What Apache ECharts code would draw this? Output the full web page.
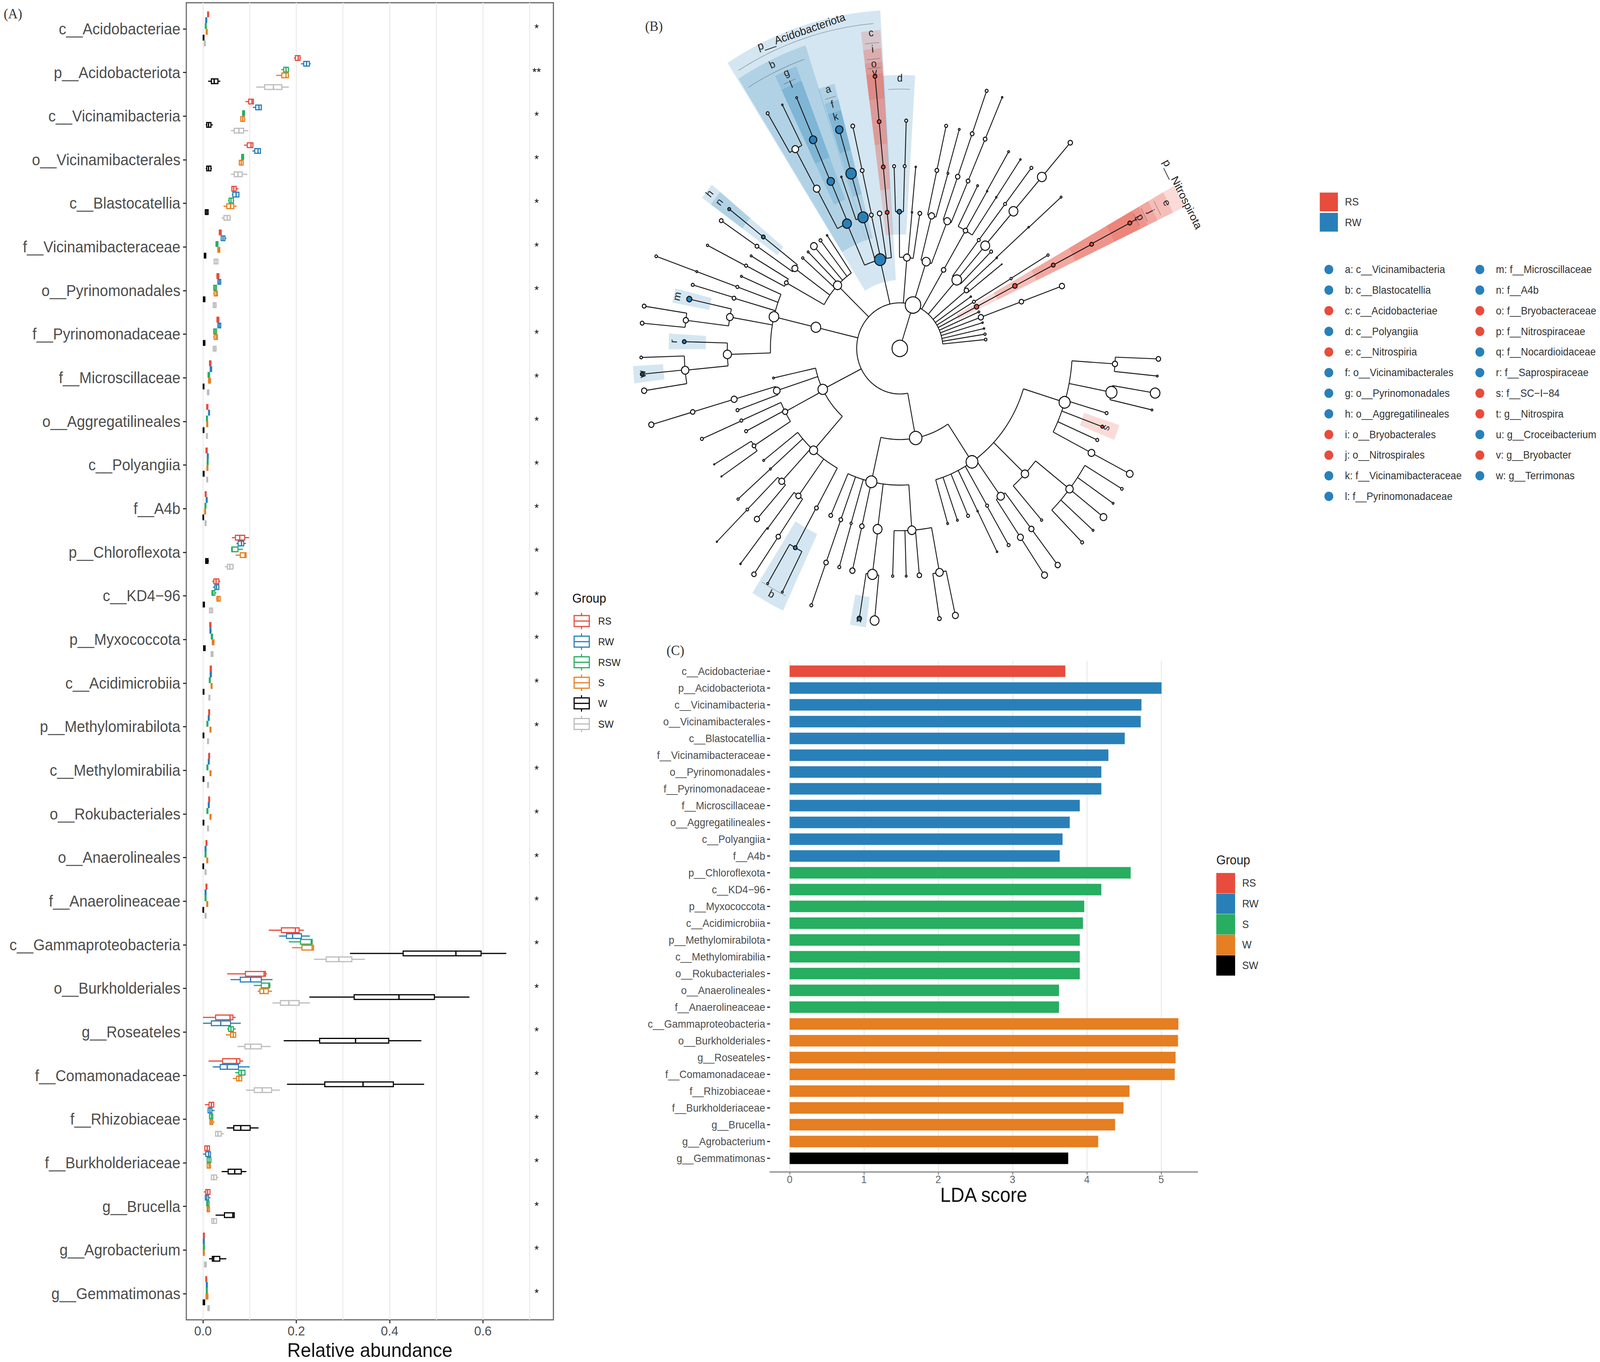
<!DOCTYPE html>
<html><head><meta charset="utf-8">
<style>html,body{margin:0;padding:0;background:#fff;overflow:hidden}#c{width:4328px;height:3487px;transform-origin:0 0}</style>
<script src="https://cdn.jsdelivr.net/npm/echarts@6/dist/echarts.min.js"></script>
</head><body><div id="c"></div>
<script>
// ---------- DATA ----------
const categories = ['c__Acidobacteriae','p__Acidobacteriota','c__Vicinamibacteria','o__Vicinamibacterales','c__Blastocatellia','f__Vicinamibacteraceae','o__Pyrinomonadales','f__Pyrinomonadaceae','f__Microscillaceae','o__Aggregatilineales','c__Polyangiia','f__A4b','p__Chloroflexota','c__KD4\u221296','p__Myxococcota','c__Acidimicrobiia','p__Methylomirabilota','c__Methylomirabilia','o__Rokubacteriales','o__Anaerolineales','f__Anaerolineaceae','c__Gammaproteobacteria','o__Burkholderiales','g__Roseateles','f__Comamonadaceae','f__Rhizobiaceae','f__Burkholderiaceae','g__Brucella','g__Agrobacterium','g__Gemmatimonas'];
const significance = ['*','**','*','*','*','*','*','*','*','*','*','*','*','*','*','*','*','*','*','*','*','*','*','*','*','*','*','*','*','*'];
const boxGroups = ['RS','RW','RSW','S','W','SW'];
const boxColors = ['#E74C3C','#2980B9','#27AE60','#E67E22','#000000','#BDBDBD'];
// each row: min, q1, median, q3, max
const boxRS = [[.009,.01,.011,.012,.013],[.195,.198,.204,.208,.21],[.091,.098,.105,.108,.109],[.088,.095,.103,.107,.107],[.062,.062,.066,.071,.076],[.034,.035,.037,.039,.04],[.029,.03,.032,.034,.035],[.029,.03,.032,.034,.035],[.013,.014,.015,.017,.018],[.0075,.008,.009,.0105,.0105],[.006,.0065,.0077,.009,.009],[.0043,.0048,.0058,.0068,.0073],[.062,.0696,.0788,.0894,.0987],[.0198,.0233,.028,.0339,.037],[.0135,.0145,.0158,.017,.018],[.015,.0155,.0167,.018,.0185],[.0117,.0122,.0132,.0142,.0147],[.0117,.0122,.0132,.0142,.0147],[.0117,.0122,.0132,.0142,.0147],[.006,.0065,.0074,.0084,.0089],[.006,.0065,.0074,.0084,.0089],[.141,.168,.198,.206,.216],[.052,.091,.131,.134,.137],[0,.027,.058,.064,.07],[.012,.042,.072,.079,.086],[.004,.013,.018,.023,.024],[.003,.004,.009,.014,.014],[.002,.006,.01,.015,.015],[.0005,.001,.002,.003,.0035],[.0055,.006,.007,.008,.0085]];
const boxRW = [[.005,.006,.007,.008,.009],[.21,.216,.222,.228,.231],[.107,.113,.12,.125,.126],[.106,.111,.118,.123,.124],[.062,.064,.071,.077,.078],[.038,.039,.043,.047,.05],[.031,.032,.035,.038,.039],[.031,.032,.035,.038,.039],[.015,.0155,.017,.0185,.019],[.0115,.012,.013,.014,.0145],[.0088,.0093,.0103,.0113,.0118],[.0065,.007,.008,.009,.0095],[.0717,.0754,.0825,.0873,.092],[.0212,.0254,.029,.0339,.0352],[.014,.015,.016,.017,.0188],[.015,.0155,.0167,.018,.0185],[.0109,.0114,.0124,.0134,.0139],[.0109,.0114,.0124,.0134,.0139],[.0109,.0114,.0124,.0134,.0139],[.004,.0045,.0055,.0065,.007],[.004,.0045,.0055,.0065,.007],[.163,.179,.192,.211,.229],[.059,.08,.102,.125,.149],[0,.018,.038,.059,.081],[.021,.037,.052,.076,.1],[.011,.011,.015,.019,.025],[0,.006,.012,.016,.016],[.005,.005,.008,.012,.016],[.0005,.0008,.0018,.0028,.0033],[.007,.0072,.0082,.0092,.0097]];
const boxRSW = [[.0045,.005,.006,.007,.0075],[.168,.173,.178,.183,.184],[.084,.085,.087,.089,.09],[.082,.083,.085,.087,.088],[.054,.056,.06,.065,.067],[.027,.028,.03,.032,.032],[.022,.023,.026,.029,.029],[.022,.023,.026,.029,.029],[.01,.011,.012,.014,.015],[.007,.0075,.0085,.0095,.01],[.0085,.009,.01,.011,.0115],[.0038,.0043,.0053,.0063,.0068],[.0603,.0616,.0625,.0749,.0854],[.0193,.0193,.0215,.0254,.0288],[.0172,.0178,.019,.0204,.0214],[.013,.0136,.0146,.0156,.0162],[.008,.0085,.0095,.0105,.011],[.008,.0085,.0095,.0105,.011],[.008,.0085,.0095,.0105,.011],[.004,.0045,.0055,.0065,.007],[.004,.0045,.0055,.0065,.007],[.184,.209,.232,.234,.235],[.109,.125,.141,.143,.145],[.052,.055,.06,.065,.07],[.069,.077,.082,.09,.09],[.014,.014,.018,.021,.021],[.009,.009,.013,.017,.017],[.008,.008,.01,.013,.013],[.0008,.001,.002,.003,.0035],[.007,.0072,.0082,.0092,.0097]];
const boxS = [[.0065,.007,.008,.009,.0095],[.157,.169,.178,.183,.184],[.08,.081,.085,.089,.091],[.077,.078,.082,.086,.087],[.044,.051,.059,.066,.072],[.031,.032,.034,.036,.036],[.022,.024,.028,.031,.031],[.022,.024,.028,.031,.031],[.011,.012,.014,.016,.016],[.0077,.0082,.0092,.0102,.0107],[.008,.0085,.0095,.0105,.011],[.003,.0035,.0045,.0055,.006],[.07,.08,.09,.0923,.0923],[.0278,.03,.033,.0368,.0368],[.0185,.02,.022,.0235,.0238],[.017,.0175,.0185,.0195,.02],[.0146,.0151,.0161,.0171,.0176],[.0146,.0151,.0161,.0171,.0176],[.0146,.0151,.0161,.0171,.0176],[.0077,.0082,.0092,.0102,.0107],[.0077,.0082,.0092,.0102,.0107],[.191,.212,.234,.237,.237],[.117,.122,.13,.14,.148],[.049,.059,.065,.07,.071],[.064,.072,.077,.083,.083],[.015,.015,.018,.021,.025],[.009,.009,.013,.016,.016],[.009,.009,.011,.014,.014],[.0005,.0008,.0018,.0028,.0033],[.006,.0065,.0085,.0105,.011]];
const boxW = [[0,.0005,.001,.002,.0025],[.011,.018,.024,.032,.037],[.006,.008,.012,.017,.021],[.006,.008,.012,.017,.019],[.004,.005,.008,.011,.012],[.002,.003,.004,.006,.007],[.0005,.001,.003,.004,.005],[.0005,.001,.003,.004,.005],[0,.0005,.001,.002,.003],[0,.0005,.001,.002,.0025],[0,.0005,.0013,.0023,.0028],[0,.0003,.0003,.0013,.0018],[.0048,.0058,.0085,.0108,.0127],[0,.0005,.0015,.003,.004],[.0008,.0015,.003,.0045,.0056],[0,.0005,.001,.002,.0025],[0,.0004,.0008,.0018,.0023],[0,.0004,.0008,.0018,.0023],[0,.0004,.0008,.0018,.0023],[0,.0002,.0003,.0013,.0018],[0,.0002,.0003,.0013,.0018],[.315,.429,.542,.596,.65],[.228,.324,.42,.496,.571],[.173,.25,.327,.398,.468],[.18,.261,.343,.408,.474],[.051,.066,.081,.101,.119],[.04,.054,.068,.082,.093],[.027,.046,.064,.067,.068],[.013,.02,.023,.036,.05],[0,.0005,.002,.0035,.004]];
const boxSW = [[.002,.003,.004,.005,.006],[.114,.132,.151,.169,.184],[.06,.067,.077,.087,.097],[.06,.067,.075,.084,.095],[.04,.045,.052,.058,.06],[.023,.024,.028,.032,.033],[.021,.022,.025,.028,.029],[.021,.022,.025,.028,.029],[.009,.0095,.011,.0125,.013],[.007,.0075,.0085,.0095,.01],[.0075,.008,.009,.01,.0105],[.004,.0045,.0055,.0065,.007],[.047,.0524,.0575,.0643,.0664],[.014,.014,.0175,.0206,.022],[.0167,.0175,.0195,.0215,.0222],[.012,.0127,.0137,.0147,.0152],[.0093,.0098,.0108,.0118,.0123],[.0093,.0098,.0108,.0118,.0123],[.0093,.0098,.0108,.0118,.0123],[.004,.0045,.0055,.0065,.007],[.004,.0045,.0055,.0065,.007],[.238,.264,.291,.319,.347],[.149,.166,.184,.206,.229],[.074,.09,.102,.125,.145],[.092,.11,.127,.147,.165],[.027,.027,.032,.039,.045],[.018,.018,.023,.029,.033],[.019,.019,.023,.029,.03],[.003,.0035,.005,.007,.008],[.009,.0105,.012,.0135,.015]];
const xTicksA = [0,0.2,0.4,0.6];
const xGridA = [0,0.1,0.2,0.3,0.4,0.5,0.6,0.7];

const ldaScores = [3.71,5.005,4.735,4.725,4.51,4.29,4.195,4.195,3.905,3.77,3.673,3.635,4.59,4.195,3.965,3.948,3.905,3.905,3.905,3.625,3.625,5.232,5.227,5.194,5.183,4.574,4.493,4.38,4.153,3.749];
const ldaGroup = ['RS','RW','RW','RW','RW','RW','RW','RW','RW','RW','RW','RW','S','S','S','S','S','S','S','S','S','W','W','W','W','W','W','W','W','SW'];
const ldaLegend = ['RS','RW','S','W','SW'];
const ldaColors = {RS:'#E74C3C',RW:'#2980B9',S:'#27AE60',W:'#E67E22',SW:'#000000'};
const xTicksC = [0,1,2,3,4,5];

const treeGroups = ['RS','RW'];
const cladeLetters1 = [['a: c__Vicinamibacteria','RW'],['b: c__Blastocatellia','RW'],['c: c__Acidobacteriae','RS'],['d: c__Polyangiia','RW'],['e: c__Nitrospiria','RS'],['f: o__Vicinamibacterales','RW'],['g: o__Pyrinomonadales','RW'],['h: o__Aggregatilineales','RW'],['i: o__Bryobacterales','RS'],['j: o__Nitrospirales','RS'],['k: f__Vicinamibacteraceae','RW'],['l: f__Pyrinomonadaceae','RW']];
const cladeLetters2 = [['m: f__Microscillaceae','RW'],['n: f__A4b','RW'],['o: f__Bryobacteraceae','RS'],['p: f__Nitrospiraceae','RS'],['q: f__Nocardioidaceae','RW'],['r: f__Saprospiraceae','RW'],['s: f__SC\u2212I\u221284','RS'],['t: g__Nitrospira','RS'],['u: g__Croceibacterium','RW'],['v: g__Bryobacter','RS'],['w: g__Terrimonas','RW']];

// Tree nodes: [angle in degrees clockwise from north, node size, group (0 none, 1 RS, 2 RW), ...children]. Depth = taxonomic rank.
const phylumBottom = [-190.6,17,0,
  [-167.3,15,0,[-156.4,5,0],[-160,5,0,[-160,6,0,[-160,4,0]]],[-163.6,3,0,[-163.7,4,0]],[-167.3,6,0,[-167.3,7,0]],[-172.6,12,0,[-172.7,13,0,[-171,6,2],[-174.4,12,0]]],[-184,11,0,[-178.1,3,0],[-181.7,2.5,0],[-185.2,6,0],[-190.6,10,0,[-188.8,5,0],[-192.4,8,0]]]],
  [-213.9,16,0,[-196.1,2.5,0],[-199.5,2.5,0],[-203.3,4,0],[-206.8,2,0,[-206.8,2,0]],[-210.4,4,0,[-210.3,4,0]],[-215.8,10,0,[-214,8,0,[-214,8,0]],[-217.6,7,0,[-217.6,7,0]]],
    [-226.5,10,0,[-221.1,3,0],[-231.9,10,0,[-224.8,4,0],[-228.3,2.5,0],[-231.9,9,0],[-235.5,2.5,0],[-239.1,3.5,0]]],
    [-252.8,15,0,[-266.1,7,0,[-267.8,6,0],[-264.2,2.5,0]],[-258.9,15,0,[-260.6,13,0],[-257,2.5,0]],[-253.5,4,0],[-249.9,4,1],[-246.3,4,0],[-242.7,9,0,[-242.7,9,0]]]]];
const phylumLowerLeft = [-116.7,13,0,[-102.5,2.5,0],[-108,9,0,[-106.2,8,0,[-106.2,6,0,[-106.2,7,0]]],[-109.8,4,0]],[-117.6,7,0,[-113.3,4,0,[-113.4,4,0]],[-117,4,0],[-122.3,5,0,[-120.6,1.5,0],[-124.2,1.5,0]]],
  [-138.2,11,0,[-127.9,2.5,0],[-131.4,2.5,0,[-131.4,3,0]],[-136.8,8,0,[-135,3.5,0,[-135,1.5,0]],[-138.5,7,0]],[-144,7,0,[-142.2,2,0,[-142,2,0]],[-145.7,6,0,[-145.7,6,0]]],[-151.1,5,0,[-151,5,2,[-149.3,2.5,0],[-153,2.5,0]]]]];
const phylumLeft = [-76.6,13,0,[-76.6,13,0,[-66.7,2.5,0],[-70.3,4,0,[-70.3,2.5,0,[-70.3,3.5,0]]],[-74,5,0,[-73.8,4,0]],[-80.1,9,0,[-77.5,7,2],[-82.9,7,0,[-81.1,5,0],[-84.7,5,0]]],[-91.9,11,0,[-88.3,5,2],[-95.5,10,0,[-91.9,3.5,0],[-95.4,5,2],[-98.9,7,0]]]]];
const phylumUpperLeft = [-46.2,11,0,[-34.2,2,0],[-37.8,4,0],[-41.6,9,0],[-45.1,2.5,0],[-48.6,3,0],[-54.2,8,0,[-52.3,5,2,[-52.3,4,2]],[-55.9,5,0,[-55.9,5,0]]],[-61.3,5,0,[-63,4,0,[-63.1,3,0]],[-59.5,2.5,0]]];
const phylumAcidobacteriota = [-13.2,15,2,[-24.1,12,2,[-28.8,9,0,[-29,9,0,[-30.7,4,0],[-27,2,0]]],[-23.6,10,2,[-23.7,10,2,[-23.5,2.5,0]]]],[-16.5,14,2,[-19.8,2,0],[-16.4,14,2,[-16.3,10,2]]],[-12.7,5,0,[-12.6,5,0,[-12.6,5,0]]],[-9,6,0],[-5.6,5,1,[-5.5,5,1,[-5.5,5,1,[-5.5,5,1]]]]];
const phylumMyxococcota = [4.7,9,0,[-0.2,6,2,[-1.9,4,0],[1.6,4,0,[1.7,4,0]]],[5.4,2,0,[5.3,2,0]],[8.9,5,0]];
const phylumTop = [17.8,11,0,[14.2,8,0,[12.4,5,0,[12.4,4,0]],[16.2,2.5,0,[16,2.5,0]]],[21.5,9,0,[19.6,6,0,[19.6,5,0,[19.6,4,0]]],[23.3,5,0,[23.3,5,0,[23.3,2,0]]]]];
const phylumC = [30.5,6,0,[30.5,6,0,[26.8,2.5,0],[30.4,2,0,[30.3,2.5,0]],[34,2,0,[34,2,0]]]];
const phylumD = [41.3,13,0,[37.6,4,0,[37.6,4,0,[37.6,4,0]]],[41.3,12,0,[41.2,12,0,[41.2,12,0,[41.2,6,0]]]],[44.9,4,0]];
const phylumE = [50.5,6,0,[48.5,2,0,[48.3,2,0,[48.4,2.5,0]]],[52,1,0]];
const phylumNitrospirota = [62.8,6,1,[62.8,6,1,[62.8,5,1,[62.8,5,1,[62.7,5,1]]]]];
const smallPhyla = [[55.4,2,0],[59.2,4,0,[59.3,3,0,[59.2,3,0]]],[66.4,2.5,0],[70,7,0,[70,6,0,[70,7,0]]],[73.6,2,0],[77.4,2,0],[81,3,0],[84.4,3.5,0]];
const treeRoot = [0,21,0,[17.8,21,0,phylumBottom,phylumLowerLeft,phylumLeft,phylumUpperLeft,phylumAcidobacteriota,phylumMyxococcota,phylumTop,phylumC,phylumD,phylumE,phylumNitrospirota,...smallPhyla]];

// Shaded clades: group, from angle, to angle, inner rank, outer rank
const cladeShades = [
 ['RW',-32.5,-3.5,1.5,7.43],['RW',-32.3,-18.2,2.5,7.0],['RW',-18.4,-14.6,2.5,6.0],['RW',-18,-14.6,3.5,5.64],['RW',-18,-14.6,4.5,5.4],
 ['RW',-25.8,-21.2,3.5,6.64],['RW',-25.8,-21.2,4.5,6.3],['RS',-7.4,-3.7,2.5,7.0],['RS',-7.4,-3.7,3.5,6.6],['RS',-7.4,-3.7,4.5,6.3],['RS',-7.4,-3.7,5.5,6.05],
 ['RW',-3.8,3.4,2.5,6.0],['RS',60.7,64.8,1.5,7.3],['RS',60.7,64.8,2.5,7.0],['RS',60.7,64.8,3.5,6.6],['RS',60.7,64.8,4.5,6.35],['RS',60.7,64.8,5.5,6.15],
 ['RW',-54.2,-50.5,3.5,5.65],['RW',-54.2,-50.5,4.5,5.4],['RW',-79.2,-75.8,4.5,5.37],['RW',-90.2,-86.5,4.5,5.36],['RW',-97.1,-93.6,5.5,6.2],
 ['RW',-154.8,-147.5,4.5,6.36],['RW',-172.7,-169.2,5.5,6.17],['RS',108.3,112,4.5,5.36]];
// Clade labels: text, angle, rank radius, size
const cladeLabels = [['p__Acidobacteriota',-18.2,7.32,29],['b',-25.4,6.9,27],['g',-23.5,6.6,27],['l',-23.5,6.32,27],['a',-16.3,5.93,27],['f',-16.3,5.58,27],['k',-16.3,5.3,27],['c',-5.5,6.96,27],['i',-5.5,6.6,27],['o',-5.5,6.28,27],['v',-5.5,6.09,27],['d',0,5.93,27],
 ['p__Nitrospirota',62.7,7.38,29],['e',62.7,6.97,27],['j',62.7,6.56,27],['p',62.7,6.28,27],['t',62.7,6.12,27],['h',-52.4,5.57,27],['n',-52.5,5.28,27],['m',-77.5,5.29,27],['r',-88.3,5.25,27],['w',-95.4,6.0,27],['q',-151.1,6.19,27],['u',-171,6.04,27],['s',110,5.12,27]];
// Thin separators: from angle, to angle, rank radius
const cladeRules = [[-31.5,-4.9,7.155],[-31.5,-19.2,6.72],[-6.9,-4.1,6.73],[-6.9,-4.1,6.38],[-6.9,-4.1,6.18],[-2.7,2.4,5.69],[-24.9,-22.2,6.39],[-17.6,-15,5.73],[-154,-148,6.04],[61.2,64.2,6.72],[61.2,64.2,6.38],[61.2,64.2,6.17]];

// ---------- LAYOUT / STYLE ----------
const FONT = 'Liberation Sans';
const fs = 'Liberation Serif';
const nodes = [], arcs = [];
(function walk(n, level, parent){
  const idx = nodes.length;
  nodes.push({angle:n[0], size:n[1], group:n[2], level, parent});
  const kids = n.slice(3);
  if (kids.length) {
    const as = kids.map(k=>k[0]);
    arcs.push({level, from:Math.min.apply(null,as), to:Math.max.apply(null,as)});
  }
  kids.forEach(k=>walk(k, level+1, idx));
})(treeRoot, 0, -1);
const norm = a => ((a%360)+360)%360;
function arcPoints(api, r, from, to){
  const pts = []; const n = Math.max(2, Math.ceil((to-from)/1.2));
  for (let i=0;i<=n;i++) pts.push(api.coord([r, norm(from+(to-from)*i/n)]));
  return pts;
}
const groupFill = {1:'#E74C3C',2:'#2980B9'};
const shadeColor = {RS:'rgba(231,76,60,0.2)',RW:'rgba(41,128,185,0.2)'};

function boxSeries(name, color, rows, gi){
  return {
    type:'custom', name, xAxisIndex:0, yAxisIndex:0, clip:false, z:5,
    encode:{x:[1,2,3,4,5], y:0},
    data: rows.map((r,i)=>[i].concat(r)),
    renderItem(params, api){
      const cat = api.value(0);
      const off = (gi-2.5)*14.9, hh = 6;
      const base = api.coord([0,cat])[1] + off;
      const X = v => api.coord([v,cat])[0];
      const [mn,q1,md,q3,mx] = [X(api.value(1)),X(api.value(2)),X(api.value(3)),X(api.value(4)),X(api.value(5))];
      const st = {stroke:color, lineWidth:3, fill:'none'};
      return {type:'group', children:[
        {type:'line', shape:{x1:mn,y1:base,x2:mx,y2:base}, style:st},
        {type:'rect', shape:{x:q1,y:base-hh,width:q3-q1,height:hh*2}, style:{stroke:color,lineWidth:3,fill:'#fff'}},
        {type:'line', shape:{x1:md,y1:base-hh,x2:md,y2:base+hh}, style:{stroke:color,lineWidth:3.5}}
      ]};
    }
  };
}

const series = [];
[boxRS,boxRW,boxRSW,boxS,boxW,boxSW].forEach((rows,i)=>series.push(boxSeries(boxGroups[i],boxColors[i],rows,i)));
series.push({type:'custom', name:'significance', xAxisIndex:0, yAxisIndex:0, z:6,
  encode:{x:0,y:1}, data: significance.map((s,i)=>[0.715,i]),
  renderItem(p,api){ const c=api.coord([api.value(0),api.value(1)]);
    return {type:'text', x:c[0], y:c[1]-2, style:{text:significance[p.dataIndex], font:`30px "${FONT}"`, fill:'#111', align:'center', verticalAlign:'middle'}}; }});

// Panel C bars
series.push({type:'bar', name:'LDA', xAxisIndex:1, yAxisIndex:1, barWidth:29.5, z:4, silent:true,
  data: ldaScores.map((v,i)=>({value:v,itemStyle:{color:ldaColors[ldaGroup[i]]}}))});

// Panel B cladogram (polar)
series.push({type:'custom', name:'shades', coordinateSystem:'polar', z:2, encode:{radius:2,angle:0},
  data: cladeShades.map(s=>[s[1],s[2],s[3],s[4]]),
  renderItem(p,api){
    const s=cladeShades[p.dataIndex];
    const pts=arcPoints(api,s[3],s[1],s[2]).concat(arcPoints(api,s[4],s[1],s[2]).reverse());
    return {type:'polygon', shape:{points:pts}, style:{fill:shadeColor[s[0]]}};
  }});
series.push({type:'custom', name:'rules', coordinateSystem:'polar', z:3, encode:{radius:2,angle:0},
  data: cladeRules,
  renderItem(p,api){ const s=cladeRules[p.dataIndex];
    return {type:'polyline', shape:{points:arcPoints(api,s[2],s[0],s[1])}, style:{stroke:'rgba(60,60,60,0.45)',lineWidth:1.5,fill:'none'}}; }});
series.push({type:'custom', name:'branches', coordinateSystem:'polar', z:4, encode:{radius:0,angle:1},
  data: nodes.filter(n=>n.parent>=0).map(n=>[n.level,norm(n.angle),nodes[n.parent].level]),
  renderItem(p,api){
    const a=api.value(1), c1=api.coord([api.value(2),a]), c2=api.coord([api.value(0),a]);
    return {type:'line', shape:{x1:c1[0],y1:c1[1],x2:c2[0],y2:c2[1]}, style:{stroke:'#1a1a1a',lineWidth:2.4}};
  }});
series.push({type:'custom', name:'arcs', coordinateSystem:'polar', z:4, encode:{radius:0,angle:1},
  data: arcs.map(a=>[a.level,norm(a.from)]),
  renderItem(p,api){ const a=arcs[p.dataIndex];
    return {type:'polyline', shape:{points:arcPoints(api,a.level,a.from,a.to)}, style:{stroke:'#1a1a1a',lineWidth:2.4,fill:'none'}}; }});
series.push({type:'custom', name:'nodes', coordinateSystem:'polar', z:5, encode:{radius:0,angle:1},
  data: nodes.map(n=>[n.level,norm(n.angle),n.size,n.group]),
  renderItem(p,api){
    const c=api.coord([api.value(0),api.value(1)]);
    return {type:'circle', shape:{cx:c[0],cy:c[1],r:api.value(2)}, style:{fill:groupFill[api.value(3)]||'#fff',stroke:'#111',lineWidth:2.6}};
  }});
series.push({type:'custom', name:'cladeLabels', coordinateSystem:'polar', z:6, encode:{radius:2,angle:1},
  data: cladeLabels.map(l=>[0,norm(l[1]),l[2]]),
  renderItem(p,api){ const l=cladeLabels[p.dataIndex];
    const c=api.coord([l[2],norm(l[1])]);
    return {type:'text', x:c[0], y:c[1], rotation:-l[1]*Math.PI/180,
      style:{text:l[0], font:`${l[3]}px "${FONT}"`, fill:'#222', align:'center', verticalAlign:'middle'}}; }});

// Graphics: panel tags and legends
const g = [];
const txt=(x,y,t,size,fill,extra)=>g.push(Object.assign({type:'text',x,y,style:{text:t,font:`${size}px "${FONT}"`,fill,align:'left',verticalAlign:'middle'}},extra||{}));
[['(A)',10,35],['(B)',1745,67],['(C)',1803,1665]].forEach(a=>g.push({type:'text',x:a[1],y:a[2],style:{text:a[0],font:`36px "${fs}"`,fill:'#333',verticalAlign:'middle'}}));
// legend A
txt(1548,1532,'Group',33,'#111');
boxGroups.forEach((n,i)=>{
  const cy=1590+i*52.7, col=boxColors[i];
  g.push({type:'line',shape:{x1:1573,y1:cy-21,x2:1573,y2:cy+21},style:{stroke:col,lineWidth:3}});
  g.push({type:'rect',shape:{x:1553,y:cy-14,width:41,height:28},style:{fill:'#fff',stroke:col,lineWidth:3}});
  g.push({type:'line',shape:{x1:1553,y1:cy,x2:1594,y2:cy},style:{stroke:col,lineWidth:3}});
  txt(1618,cy,n,26,'#222');
});
g.push({type:'rect',shape:{x:1678,y:1680,width:24,height:40},style:{fill:'#fff'},z:20});
// legend B
treeGroups.forEach((n,i)=>{
  g.push({type:'rect',shape:{x:3570,y:493+i*52,width:49,height:48},style:{fill:ldaColors[n]}});
  txt(3638,517+i*53,n,27,'#333');
});
[[cladeLetters1,3594.5,3638],[cladeLetters2,4003,4046.5]].forEach(col=>{
  col[0].forEach((e,i)=>{
    const cy=690+i*52.8;
    g.push({type:'ellipse',shape:{cx:col[1],cy,rx:12,ry:12},style:{fill:ldaColors[e[1]]}});
    txt(col[2],cy,e[0],27,'#333');
  });
});
// legend C
txt(3290,2202,'Group',33,'#222');
ldaLegend.forEach((n,i)=>{
  const y=2235+i*52.7;
  g.push({type:'rect',shape:{x:3290,y,width:51,height:52},style:{fill:ldaColors[n]}});
  txt(3360,y+26,n,27,'#333');
});

const option = {
  backgroundColor:'#fff', animation:false, textStyle:{fontFamily:FONT},
  grid:[
    {left:504,top:7,width:993,height:3381,show:true,borderColor:'#666',borderWidth:3,backgroundColor:'#fff',z:0},
    {left:2083,top:1697,width:1156,height:1290},
    {left:2083,top:1692,width:1156,height:1308}
  ],
  xAxis:[
    {type:'value',gridIndex:0,position:'bottom',min:-0.0357,max:0.751,
      axisLine:{show:false,onZero:false},axisTick:{show:true,length:9,lineStyle:{color:'#333',width:3},customValues:xTicksA},
      axisLabel:{customValues:xTicksA,fontSize:34,color:'#4d4d4d',margin:11,fontFamily:FONT,formatter:v=>v.toFixed(1)},
      splitLine:{show:false},
      name:'Relative abundance',nameLocation:'middle',nameGap:52,nameTextStyle:{fontSize:50.6,color:'#111',fontFamily:FONT}},
    {type:'value',gridIndex:1,min:-0.2637,max:5.488,show:false},
    {type:'value',gridIndex:2,position:'bottom',min:-0.2637,max:5.488,
      axisLine:{show:true,onZero:false,lineStyle:{color:'#888',width:3}},axisTick:{show:true,length:7,lineStyle:{color:'#888',width:3},customValues:xTicksC},
      axisLabel:{customValues:xTicksC,fontSize:27,color:'#666',margin:6,fontFamily:FONT},
      splitLine:{show:true,lineStyle:{color:'#ececec',width:3}},
      name:'LDA score',nameLocation:'middle',nameGap:33,nameTextStyle:{fontSize:51,color:'#111',fontFamily:FONT}},
    {type:'value',gridIndex:0,position:'top',min:-0.0357,max:0.751,
      axisLine:{show:false,onZero:false},axisLabel:{show:false},
      axisTick:{show:false,customValues:xGridA},
      splitLine:{show:true,lineStyle:{color:'#ececec',width:3}}}
  ],
  yAxis:[
    {type:'value',gridIndex:0,inverse:true,min:-0.6,max:29.6,
      axisLine:{show:false,onZero:false},splitLine:{show:false},
      axisTick:{show:true,length:9,lineStyle:{color:'#333',width:3},customValues:categories.map((c,i)=>i)},
      axisLabel:{customValues:categories.map((c,i)=>i),fontSize:40,color:'#4d4d4d',margin:16,fontFamily:FONT,formatter:v=>categories[v]}},
    {type:'category',gridIndex:1,inverse:true,data:categories,
      axisLine:{show:false,onZero:false},axisTick:{show:true,length:8,alignWithLabel:true,lineStyle:{color:'#333',width:3}},
      axisLabel:{fontSize:27.5,color:'#4d4d4d',margin:13,interval:0,fontFamily:FONT}},
    {type:'value',gridIndex:2,min:0,max:1,show:false}
  ],
  polar:{center:[2434,892],radius:875},
  radiusAxis:{type:'value',min:0,max:7.5,show:false,axisLine:{show:false},axisTick:{show:false},axisLabel:{show:false},splitLine:{show:false}},
  angleAxis:{type:'value',min:0,max:360,startAngle:90,clockwise:true,show:false,axisLine:{show:false},axisTick:{show:false},axisLabel:{show:false},splitLine:{show:false}},
  series,
  graphic:{elements:g}
};
// The browser window may be narrower than the 4328 px design width: squeeze the whole drawing to fit it.
const box = document.getElementById('c');
box.style.transform = 'scale(' + (window.innerWidth/4328) + ',' + (window.innerHeight/3487) + ')';
const chart = echarts.init(box,null,{width:4328,height:3487,renderer:'svg'});
chart.setOption(option);
</script></body></html>
